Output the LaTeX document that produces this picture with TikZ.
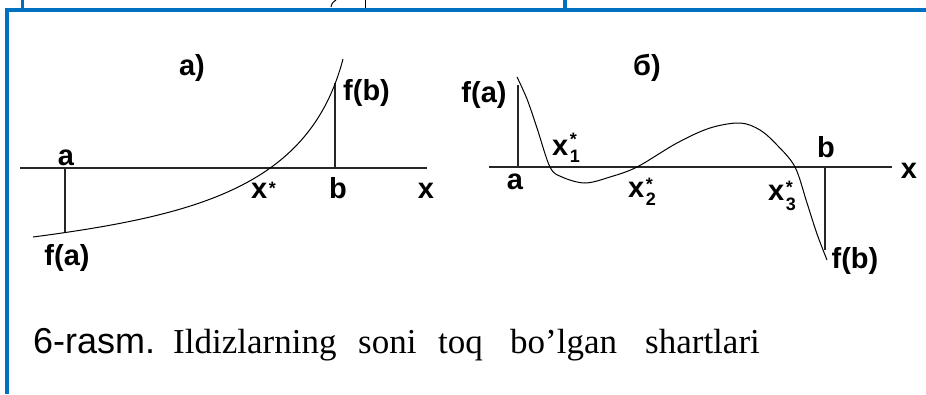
\documentclass[tikz,border=0pt]{standalone}
\usepackage{fontspec}
\setmainfont{Liberation Sans}
\newfontfamily\capserif{Liberation Serif}
\definecolor{frameblue}{HTML}{0070C0}
\newcommand{\smallfs}{\fontsize{18}{18}\selectfont}
% #1 subscript digit, #2 extra gap between star and digit rows, #3 lowering of the digit
\newcommand{\rootlbl}[3]{x\hspace{1.5pt}\raisebox{#3}{\smallfs\begin{tabular}[b]{@{}l@{}}*\\[#2]#1\end{tabular}}}
\tikzset{
  lbl/.style={font=\fontsize{29}{29}\selectfont\bfseries, inner sep=0pt, anchor=base},
  lblw/.style={lbl, anchor=base west},
  axisline/.style={line width=1.3pt, black!85},
  curveline/.style={line width=1pt, black},
  dropline/.style={line width=1.2pt, black!85},
  framel/.style={line width=4pt, frameblue},
  capsans/.style={font=\fontsize{36}{36}\selectfont, inner sep=0pt, anchor=base west},
  capword/.style={font=\capserif\fontsize{35}{35}\selectfont, inner sep=0pt, anchor=base west},
}
\begin{document}
\begin{tikzpicture}[x=1pt,y=-1pt]
\useasboundingbox (0,0) rectangle (926,394);
% top stubs of the page above
\coordinate (s1t) at (22.5,0); \coordinate (s1b) at (22.5,10);
\coordinate (s2t) at (565,0); \coordinate (s2b) at (565,10);
\coordinate (s3t) at (365,0); \coordinate (s3b) at (365,8);
\coordinate (s4t) at (336,0); \coordinate (s4b) at (331,7);
\draw[frameblue, line width=3pt] (s1t) -- (s1b);
\draw[frameblue, line width=3.5pt] (s2t) -- (s2b);
\draw[black, line width=1pt] (s3t) -- (s3b);
\draw[black, line width=1pt] (s4b) .. controls (332,3) .. (s4t);
% frame
\coordinate (fbl) at (6.5,394); \coordinate (ftl) at (6.5,10); \coordinate (ftr) at (926,10);
\draw[framel] (fbl) -- (ftl) -- (ftr);

% ---------- left graph a)
\coordinate (LaxL) at (20,168); \coordinate (LaxR) at (427,168);
\draw[axisline] (LaxL) -- (LaxR);
\coordinate (La) at (65,168); \coordinate (Lfa) at (65,233);
\coordinate (Lb) at (335,168); \coordinate (Lfb) at (335,83);
\coordinate (Lcs) at (33,237); \coordinate (Lce) at (343,59);
\draw[dropline] (La) -- (Lfa);
\draw[dropline] (Lb) -- (Lfb);
\draw[curveline] (Lcs) .. controls (200,215) and (310,185) .. (Lce);
\node[lbl] (ttlA) at (192,75) {a)};
\node[lbl] (LlblA) at (66,165) {a};
\node[lbl] (LlblFa) at (67,265) {f(a)};
\node[lblw] (LlblFb) at (343,100) {f(b)};
\node[lblw] (LlblX) at (251,198) {x\hspace{1.5pt}\raisebox{4pt}{\smallfs *}};
\node[lbl] (LlblB) at (338,198) {b};
\node[lbl] (LlblXax) at (426,198) {x};

% ---------- right graph б)
\coordinate (RaxL) at (489,167); \coordinate (RaxR) at (892,167);
\draw[axisline] (RaxL) -- (RaxR);
\coordinate (Ra) at (518,167); \coordinate (Rfa) at (518,85);
\coordinate (Rb) at (825,167); \coordinate (Rfb) at (825,250);
\draw[dropline] (Ra) -- (Rfa);
\draw[dropline] (Rb) -- (Rfb);
\draw[curveline] plot[smooth, tension=0.55] coordinates {(517,77) (527,99) (537,128) (550,167) (562,177) (585,183) (610,177) (637,167) (677,143) (710,128) (740,123) (760,130) (777,145) (795,167) (807,203) (817,234) (827,260)};
\node[lbl] (ttlB) at (647,75) {б)};
\node[lbl] (RlblFa) at (484,102) {f(a)};
\node[lbl] (RlblA) at (515,189) {a};
\node[lblw] (RlblX1) at (552,155) {\rootlbl{1}{-1pt}{-7pt}};
\node[lblw] (RlblX2) at (628,197) {\rootlbl{2}{-3pt}{-8pt}};
\node[lblw] (RlblX3) at (768,200) {\rootlbl{3}{-1pt}{-10pt}};
\node[lbl] (RlblB) at (826,157) {b};
\node[lbl] (RlblXax) at (909,178) {x};
\node[lbl] (RlblFb) at (855,268) {f(b)};

% ---------- caption
\node[capsans] (capnum) at (33,353) {6-rasm.};
\node[capword] (w1) at (173,353) {Ildizlarning};
\node[capword] (w2) at (358,353) {soni};
\node[capword] (w3) at (438,353) {toq};
\node[capword] (w4) at (510,353) {bo’lgan};
\node[capword] (w5) at (645,353) {shartlari};
\end{tikzpicture}
\end{document}
